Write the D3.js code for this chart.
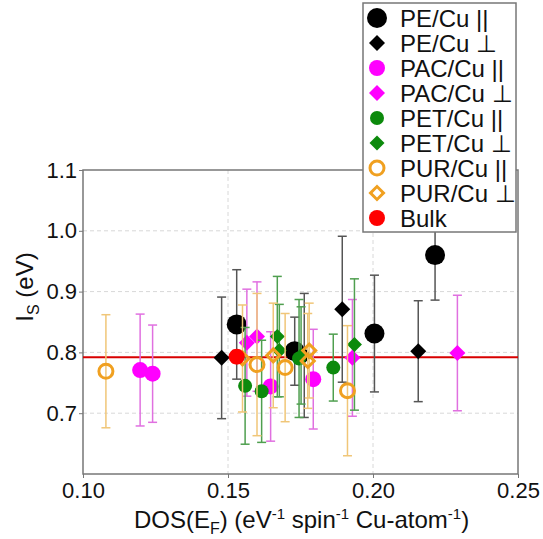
<!DOCTYPE html>
<html>
<head>
<meta charset="utf-8">
<script src="https://cdn.jsdelivr.net/npm/d3@7"></script>
<style>
  html, body { margin: 0; padding: 0; background: #fff; }
  svg text { font-family: "Liberation Sans", Arial, sans-serif; fill: #111; }
</style>
</head>
<body>
<div id="chart"></div>
<script>
// values: [DOS(E_F), I_S, error]
const peParallel   = [[0.1530, 0.846, 0.090], [0.1730, 0.802, 0.056], [0.2005, 0.831, 0.096], [0.2214, 0.960, 0.074]];
const pePerp       = [[0.1478, 0.791, 0.100], [0.1763, 0.795, 0.102], [0.1894, 0.871, 0.120], [0.2156, 0.802, 0.083]];
const pacParallel  = [[0.1197, 0.771, 0.092], [0.1240, 0.765, 0.080], [0.1647, 0.744, 0.090], [0.1794, 0.756, 0.082]];
const pacPerp      = [[0.1565, 0.816, 0.088], [0.1600, 0.826, 0.090], [0.1929, 0.791, 0.096], [0.2291, 0.799, 0.095]];
const petParallel  = [[0.1559, 0.745, 0.096], [0.1616, 0.736, 0.084], [0.1745, 0.790, 0.097], [0.1863, 0.775, 0.055]];
const petPerp      = [[0.1670, 0.826, 0.099], [0.1677, 0.803, 0.076], [0.1752, 0.795, 0.080], [0.1936, 0.813, 0.108]];
const purParallel  = [[0.1079, 0.769, 0.093], [0.1600, 0.780, 0.117], [0.1697, 0.775, 0.089], [0.1912, 0.737, 0.107]];
const purPerp      = [[0.1550, 0.790, 0.088], [0.1656, 0.795, 0.086], [0.1775, 0.786, 0.078], [0.1780, 0.803, 0.078]];
const bulk         = [[0.1530, 0.793, 0.010]];
const bulkLevel = 0.792;

const xTicks = [0.10, 0.15, 0.20, 0.25];
const yTicks = [0.7, 0.8, 0.9, 1.0, 1.1];

const series = [
  { name: 'PE/Cu ||',  data: peParallel,  shape: 'circle',  size: 10, fill: '#000', stroke: 'none', bar: '#555' },
  { name: 'PE/Cu \u22A5', data: pePerp,  shape: 'diamond', size: 8,  fill: '#000', stroke: 'none', bar: '#555' },
  { name: 'PAC/Cu ||', data: pacParallel, shape: 'circle',  size: 8,  fill: '#ff00ff', stroke: 'none', bar: '#e070e0' },
  { name: 'PAC/Cu \u22A5', data: pacPerp, shape: 'diamond', size: 8, fill: '#ff00ff', stroke: 'none', bar: '#e070e0' },
  { name: 'PET/Cu ||', data: petParallel, shape: 'circle',  size: 7,  fill: '#0c8a0c', stroke: 'none', bar: '#4f9f4f' },
  { name: 'PET/Cu \u22A5', data: petPerp, shape: 'diamond', size: 7.5, fill: '#0c8a0c', stroke: 'none', bar: '#4f9f4f' },
  { name: 'PUR/Cu ||', data: purParallel, shape: 'circle',  size: 8.5, fill: 'none', stroke: '#f0a020', bar: '#f0c678' },
  { name: 'PUR/Cu \u22A5', data: purPerp, shape: 'diamond', size: 8, fill: 'none', stroke: '#f0a020', bar: '#f0c678' },
  { name: 'Bulk',      data: bulk,        shape: 'circle',  size: 8,  fill: '#ff0000', stroke: 'none', bar: '#ff0000' }
];

const width = 543, height = 539;
const plot = { left: 83, right: 518, top: 170, bottom: 474 };

const svg = d3.select('#chart').append('svg')
    .attr('width', width).attr('height', height);

const x = d3.scaleLinear().domain([0.10, 0.25]).range([plot.left, plot.right]);
const y = d3.scaleLinear().domain([0.6, 1.1]).range([plot.bottom, plot.top]);

// grid
const grid = svg.append('g').attr('stroke', '#d8d8d8').attr('stroke-dasharray', '4,3').attr('stroke-width', 1);
grid.selectAll('line.gx').data(xTicks.slice(1, -1)).enter().append('line')
    .attr('x1', d => x(d)).attr('x2', d => x(d)).attr('y1', plot.top).attr('y2', plot.bottom);
grid.selectAll('line.gy').data(yTicks.slice(0, -1)).enter().append('line')
    .attr('x1', plot.left).attr('x2', plot.right).attr('y1', d => y(d)).attr('y2', d => y(d));

// axes
const xAxis = svg.append('g').attr('transform', `translate(0,${plot.bottom})`)
    .call(d3.axisBottom(x).tickValues(xTicks).tickFormat(d3.format('.2f')).tickSize(4).tickPadding(3));
const yAxis = svg.append('g').attr('transform', `translate(${plot.left},0)`)
    .call(d3.axisLeft(y).tickValues(yTicks).tickFormat(d3.format('.1f')).tickSize(4).tickPadding(2));
[xAxis, yAxis].forEach(a => {
  a.select('.domain').remove();
  a.selectAll('.tick line').attr('stroke', '#777');
  a.selectAll('.tick text').attr('font-size', 22).attr('font-family', '"Liberation Sans", Arial, sans-serif').attr('fill', '#111');
});
xAxis.selectAll('.tick text').attr('dy', '0.75em');

// frame
svg.append('rect')
    .attr('x', plot.left).attr('y', plot.top)
    .attr('width', plot.right - plot.left).attr('height', plot.bottom - plot.top)
    .attr('fill', 'none').attr('stroke', '#777').attr('stroke-width', 1.5);

// bulk reference line
svg.append('line')
    .attr('x1', plot.left).attr('x2', plot.right)
    .attr('y1', y(bulkLevel)).attr('y2', y(bulkLevel))
    .attr('stroke', '#d80000').attr('stroke-width', 2);

function drawMarker(g, s, cx, cy) {
  const open = s.stroke !== 'none';
  if (s.shape === 'circle') {
    g.append('circle').attr('cx', cx).attr('cy', cy).attr('r', open ? s.size - 1.5 : s.size)
      .attr('fill', s.fill).attr('stroke', s.stroke).attr('stroke-width', 3);
  } else {
    const h = open ? s.size - 1.5 : s.size;
    g.append('path')
      .attr('d', d3.symbol(d3.symbolSquare, 2 * h * h)())
      .attr('transform', `translate(${cx},${cy}) rotate(45)`)
      .attr('fill', s.fill).attr('stroke', s.stroke).attr('stroke-width', 3);
  }
}

// series: error bars then markers
const cap = 4.5;
series.forEach(s => {
  const g = svg.append('g');
  s.data.forEach(([dx, dy, err]) => {
    const px = x(dx), y0 = y(dy - err), y1 = y(dy + err);
    const eb = g.append('g').attr('stroke', s.bar).attr('stroke-width', 1.5);
    eb.append('line').attr('x1', px).attr('x2', px).attr('y1', y0).attr('y2', y1);
    eb.append('line').attr('x1', px - cap).attr('x2', px + cap).attr('y1', y0).attr('y2', y0);
    eb.append('line').attr('x1', px - cap).attr('x2', px + cap).attr('y1', y1).attr('y2', y1);
  });
  s.data.forEach(([dx, dy]) => drawMarker(g, s, x(dx), y(dy)));
});

// axis titles
const xt = svg.append('text')
    .attr('x', (plot.left + plot.right) / 2 + 1).attr('y', 528)
    .attr('text-anchor', 'middle').attr('font-size', 24);
xt.append('tspan').text('DOS(E');
xt.append('tspan').attr('font-size', 16).attr('dy', 6).text('F');
xt.append('tspan').attr('dy', -6).text(') (eV');
xt.append('tspan').attr('font-size', 15).attr('dy', -9).text('-1');
xt.append('tspan').attr('dy', 9).text(' spin');
xt.append('tspan').attr('font-size', 15).attr('dy', -9).text('-1');
xt.append('tspan').attr('dy', 9).text(' Cu-atom');
xt.append('tspan').attr('font-size', 15).attr('dy', -9).text('-1');
xt.append('tspan').attr('dy', 9).text(')');

const yt = svg.append('text')
    .attr('transform', 'translate(33,287) rotate(-90)')
    .attr('text-anchor', 'middle').attr('font-size', 24);
yt.append('tspan').text('I');
yt.append('tspan').attr('font-size', 16).attr('dy', 6).text('S');
yt.append('tspan').attr('dy', -6).text(' (eV)');

// legend
const legend = svg.append('g');
legend.append('rect')
    .attr('x', 363).attr('y', 3).attr('width', 153).attr('height', 229)
    .attr('fill', '#fff').attr('stroke', '#777').attr('stroke-width', 1.5);
series.forEach((s, i) => {
  const cy = 18 + i * 25;
  drawMarker(legend, s, 377, cy);
  legend.append('text').attr('x', 400).attr('y', cy + 8.5)
      .attr('font-size', 24).text(s.name);
});
</script>
</body>
</html>
